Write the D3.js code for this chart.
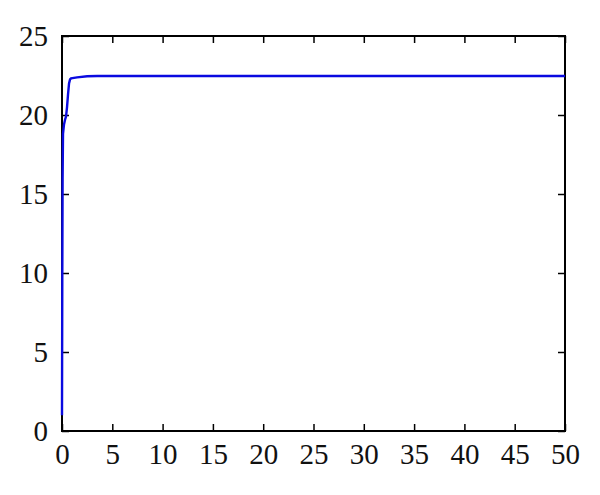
<!DOCTYPE html>
<html>
<head>
<meta charset="UTF-8" />
<script src="https://d3js.org/d3.v7.min.js"></script>
<style>
  body { margin: 0; background: #fff; }
</style>
</head>
<body>
<svg id="chart" width="600" height="495"></svg>
<script>
// curve
const tValues = [0, 0.03, 0.06, 0.1, 0.2, 0.3, 0.4, 0.5, 0.6, 0.7, 0.8, 0.9, 1.5, 2.5, 3.5, 50];
const yValues = [1, 10, 16, 18.8, 19.4, 19.7, 19.9, 20.5, 21.3, 22.0, 22.25, 22.32, 22.38, 22.45, 22.47, 22.47];
const xTicks = [0, 5, 10, 15, 20, 25, 30, 35, 40, 45, 50];
const yTicks = [0, 5, 10, 15, 20, 25];

const mLeft = 62, mRight = 565, mTop = 36, mBottom = 431;
const svg = d3.select('#chart');

const x = d3.scaleLinear().domain([0, 50]).range([mLeft, mRight]);
const y = d3.scaleLinear().domain([0, 25]).range([mBottom, mTop]);

// inward ticks on all four sides
const tk = 7;
svg.append('g').attr('transform', `translate(0,${mBottom})`)
  .call(d3.axisBottom(x).tickValues(xTicks).tickSizeInner(-tk).tickSizeOuter(0).tickPadding(12));
svg.append('g').attr('transform', `translate(0,${mTop})`)
  .call(d3.axisTop(x).tickValues(xTicks).tickSizeInner(-tk).tickSizeOuter(0).tickFormat(''));
svg.append('g').attr('transform', `translate(${mLeft},0)`)
  .call(d3.axisLeft(y).tickValues(yTicks).tickSizeInner(-tk).tickSizeOuter(0).tickPadding(14));
svg.append('g').attr('transform', `translate(${mRight},0)`)
  .call(d3.axisRight(y).tickValues(yTicks).tickSizeInner(-tk).tickSizeOuter(0).tickFormat(''));

svg.selectAll('.domain').remove();
svg.selectAll('.tick line').attr('stroke', '#000').attr('stroke-width', 1.5);
svg.selectAll('.tick text').attr('font-size', 29).attr('fill', '#111')
  .attr('font-family', '"Liberation Serif", "DejaVu Serif", serif');

svg.append('rect')
  .attr('x', mLeft).attr('y', mTop)
  .attr('width', mRight - mLeft).attr('height', mBottom - mTop)
  .attr('fill', 'none').attr('stroke', '#000').attr('stroke-width', 2);

const line = d3.line().x((d, i) => x(tValues[i])).y(d => y(d));
svg.append('path').datum(yValues)
  .attr('d', line)
  .attr('fill', 'none')
  .attr('stroke', '#0a0ae0')
  .attr('stroke-width', 2.4);
</script>
</body>
</html>
